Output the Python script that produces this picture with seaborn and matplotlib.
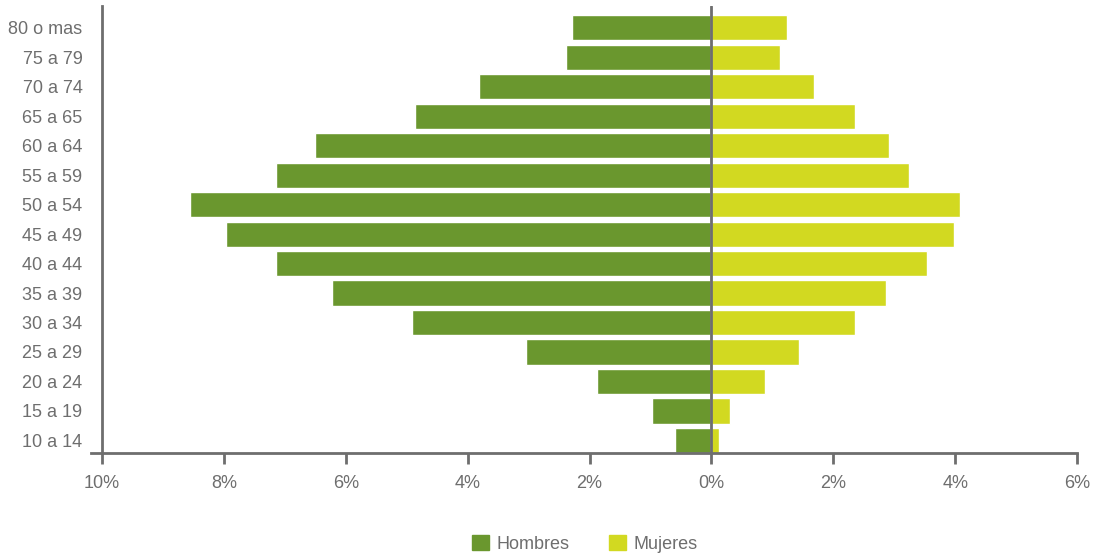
import seaborn as sns
import matplotlib.pyplot as plt
import pandas as pd

grupos = ["80 o mas", "75 a 79", "70 a 74", "65 a 65", "60 a 64", "55 a 59", "50 a 54",
          "45 a 49", "40 a 44", "35 a 39", "30 a 34", "25 a 29", "20 a 24", "15 a 19", "10 a 14"]
hombres = [2.28, 2.38, 3.82, 4.87, 6.50, 7.15, 8.55, 7.96, 7.15, 6.23, 4.92, 3.05, 1.87, 0.98, 0.60]
mujeres = [1.24, 1.12, 1.68, 2.35, 2.91, 3.24, 4.08, 3.98, 3.54, 2.86, 2.35, 1.43, 0.88, 0.30, 0.12]
xticks = [-10, -8, -6, -4, -2, 0, 2, 4, 6]

sns.set_style("white")
plt.rcParams['font.family'] = ['Liberation Sans', 'DejaVu Sans']
gris = '#6e6e6e'

df = pd.concat([
    pd.DataFrame({'grupo': grupos, 'valor': [-v for v in hombres], 'sexo': 'Hombres'}),
    pd.DataFrame({'grupo': grupos, 'valor': mujeres, 'sexo': 'Mujeres'}),
])

fig = plt.figure(figsize=(10.99, 5.55), dpi=100)
ax = fig.add_axes([0.0928, 0.1838, 0.8872, 0.8052])
sns.barplot(data=df, y='grupo', x='valor', hue='sexo', orient='h', dodge=False,
            palette={'Hombres': '#6a972e', 'Mujeres': '#d2d921'}, width=0.85,
            saturation=1, ax=ax, legend=False)

ax.axvline(0, color=gris, lw=2, zorder=5)
ax.set_xlim(-10, 6)
ax.set_ylim(len(grupos) - 1 + 0.425, -0.73)
ax.set_xticks(xticks)
ax.set_xticklabels(['{}%'.format(abs(t)) for t in xticks])
ax.set_xlabel('')
ax.set_ylabel('')

for s in ['top', 'right']:
    ax.spines[s].set_visible(False)
for s in ['left', 'bottom']:
    ax.spines[s].set_color(gris)
    ax.spines[s].set_linewidth(2)
ax.spines['bottom'].set_bounds(-10.18, 6)
ax.spines['bottom'].set_clip_on(False)

ax.tick_params(axis='x', colors=gris, labelsize=13, length=8, width=2, pad=8, bottom=True)
ax.tick_params(axis='y', colors=gris, labelsize=13, length=0, pad=14)

handles = [plt.Rectangle((0, 0), 1, 1, color='#6a972e'), plt.Rectangle((0, 0), 1, 1, color='#d2d921')]
leg = fig.legend(handles, ['Hombres', 'Mujeres'], loc='center', bbox_to_anchor=(0.532, 0.02),
                 ncol=2, frameon=False, fontsize=13, handlelength=0.95, handleheight=0.95,
                 columnspacing=2.2, handletextpad=0.4)
for t in leg.get_texts():
    t.set_color(gris)

fig.savefig('out.png', dpi=100)
